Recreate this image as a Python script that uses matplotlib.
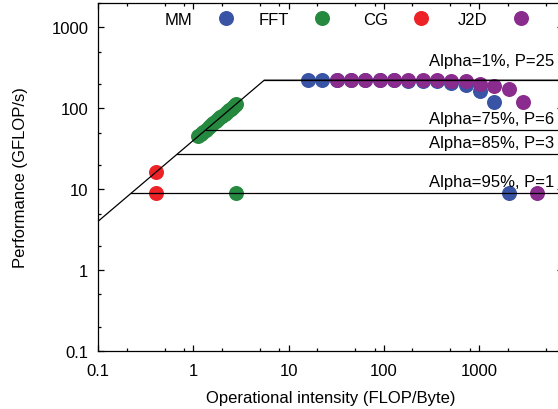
import numpy as np
import matplotlib.pyplot as plt
from matplotlib.legend import Legend
from matplotlib.ticker import LogLocator, NullFormatter, FixedFormatter, FixedLocator

plt.rcParams['font.family'] = ['Liberation Sans', 'DejaVu Sans']
plt.rcParams['font.size'] = 12

# machine limits
peak = 222.0        # GFLOP/s
bandwidth = 40.0    # GB/s
alpha_labels = ["Alpha=1%, P=25", "Alpha=75%, P=6", "Alpha=85%, P=3", "Alpha=95%, P=1"]
alpha_peaks = [222.0, 54.0, 27.0, 8.9]

# measured kernels
mm_x = [16, 22.6, 32, 45.3, 64, 90.5, 128, 181, 256, 362, 512, 724, 1024, 1448, 2048]
mm_y = [222, 222, 222, 222, 222, 222, 222, 220, 218, 215, 205, 195, 165, 118, 8.9]

fft_x = [1.12, 1.2, 1.28, 1.36, 1.45, 1.54, 1.63, 1.72, 1.82, 1.92, 2.02, 2.13,
         2.24, 2.36, 2.48, 2.6, 2.72, 2.8, 2.8]
fft_y = [45, 48, 51, 54.5, 58, 61.5, 65, 69, 73, 77, 81, 85,
         90, 94, 99, 104, 109, 112, 8.9]

cg_x = [0.41, 0.41]
cg_y = [16.4, 8.9]

j2d_x = [32, 45.3, 64, 90.5, 128, 181, 256, 362, 512, 724, 1024, 1448, 2048, 2896, 4096]
j2d_y = [222, 222, 222, 222, 222, 222, 222, 222, 220, 217, 198, 187, 171, 119, 8.9]

xmin, xmax = 0.1, 7600
ymin, ymax = 0.1, 2000

fig = plt.figure(figsize=(5.58, 4.1), dpi=100)
ax = fig.add_axes([98 / 558, 58 / 410, 465 / 558, 348 / 410])

ms = 10.8
h_mm, = ax.plot(mm_x, mm_y, 'o', color='#3a54a5', ms=ms, mec='none', label='MM', zorder=2)
h_fft, = ax.plot(fft_x, fft_y, 'o', color='#25893f', ms=ms, mec='none', label='FFT', zorder=2)
h_cg, = ax.plot(cg_x, cg_y, 'o', color='#ec2227', ms=ms, mec='none', label='CG', zorder=2)
h_j2d, = ax.plot(j2d_x, j2d_y, 'o', color='#8a2c8d', ms=ms, mec='none', label='J2D', zorder=3)

# roofline
ridge = peak / bandwidth
ax.plot([xmin, ridge, xmax], [bandwidth * xmin, peak, peak], color='black', lw=0.9, zorder=4)

# reduced ceilings
offsets = [14, 8.5, 8.5, 8.5]
for lab, p, off in zip(alpha_labels, alpha_peaks, offsets):
    ax.plot([p / bandwidth, xmax], [p, p], color='black', lw=0.9, zorder=4)
    ax.annotate(lab, xy=(300, p), xytext=(0, off), textcoords='offset points',
                ha='left', va='center', fontsize=12)

ax.set_xscale('log')
ax.set_yscale('log')
ax.set_xlim(xmin, xmax)
ax.set_ylim(ymin, ymax)

ax.xaxis.set_major_locator(FixedLocator([0.1, 1, 10, 100, 1000]))
ax.xaxis.set_major_formatter(FixedFormatter(['0.1', '1', '10', '100', '1000']))
ax.xaxis.set_minor_locator(LogLocator(base=10, subs=(2, 5, 8)))
ax.xaxis.set_minor_formatter(NullFormatter())
ax.yaxis.set_major_locator(FixedLocator([0.1, 1, 10, 100, 1000]))
ax.yaxis.set_major_formatter(FixedFormatter(['0.1', '1', '10', '100', '1000']))
ax.yaxis.set_minor_locator(LogLocator(base=10, subs=(2, 5)))
ax.yaxis.set_minor_formatter(NullFormatter())

ax.tick_params(which='both', direction='in', top=True, right=True, width=0.9)
ax.tick_params(which='major', length=4.5)
ax.tick_params(which='minor', length=2.3)
ax.tick_params(axis='x', which='major', pad=8.5)
ax.tick_params(axis='y', which='major', pad=7)
for s in ax.spines.values():
    s.set_linewidth(0.9)

ax.set_xlabel('Operational intensity (FLOP/Byte)', labelpad=9)
ax.set_ylabel('Performance (GFLOP/s)', labelpad=17)

# key: one fixed-width slot per kernel, label right-justified before its marker
key_right = [0.3112, 0.5177, 0.7306, 0.9456]
for h, xr in zip([h_mm, h_fft, h_cg, h_j2d], key_right):
    leg = Legend(ax, [h], [h.get_label()], loc='center right', bbox_to_anchor=(xr, 0.954),
                 frameon=False, markerfirst=False, borderpad=0, borderaxespad=0,
                 handlelength=2.0, handletextpad=1.0, numpoints=1)
    ax.add_artist(leg)

fig.savefig('out.png', dpi=100)
